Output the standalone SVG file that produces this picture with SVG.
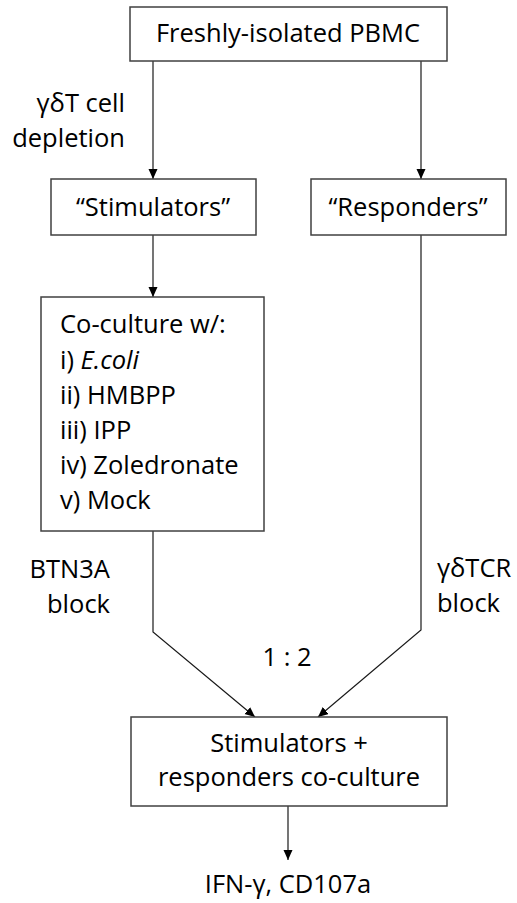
<svg xmlns="http://www.w3.org/2000/svg" width="517" height="903" viewBox="0 0 517 903">
  <defs>
    <marker id="arrow" markerUnits="userSpaceOnUse" markerWidth="10" markerHeight="10" refX="10" refY="4.5" orient="auto">
      <path d="M0,0 L10,4.5 L0,9 z" fill="#000"/>
    </marker>
    <style>
      .box { fill: #fff; stroke: #404040; stroke-width: 1.5; }
      .conn { fill: none; stroke: #1a1a1a; stroke-width: 1.2; }
      text { font-family: "Open Sans", "Noto Sans", "Liberation Sans", sans-serif; font-size: 25.5px; fill: #000; }
      .mid { text-anchor: middle; }
      .end { text-anchor: end; }
    </style>
  </defs>
  <rect width="517" height="903" fill="#fff"/>

  <!-- connectors -->
  <g id="connectors">
    <path class="conn" d="M153,61 V179" marker-end="url(#arrow)"/>
    <path class="conn" d="M421,61 V179" marker-end="url(#arrow)"/>
    <path class="conn" d="M153,235 V297" marker-end="url(#arrow)"/>
    <path class="conn" d="M153,531 V632 L255,717" marker-end="url(#arrow)"/>
    <path class="conn" d="M421,235 V630 L318,717" marker-end="url(#arrow)"/>
    <path class="conn" d="M288,806 V860" marker-end="url(#arrow)"/>
  </g>

  <!-- edge labels -->
  <g id="labels">
    <text class="end" x="125" y="112">γδT cell</text>
    <text class="end" x="125" y="147">depletion</text>
    <text class="end" x="110" y="578">BTN3A</text>
    <text class="end" x="110" y="613">block</text>
    <text x="437" y="577">γδTCR</text>
    <text x="437" y="612">block</text>
    <text class="mid" x="287" y="666">1 : 2</text>
  </g>

  <g id="pbmc">
    <rect class="box" x="130" y="7" width="317" height="54"/>
    <text class="mid" x="288" y="42">Freshly-isolated PBMC</text>
  </g>

  <g id="stimulators">
    <rect class="box" x="51" y="179" width="205" height="56"/>
    <text class="mid" x="153" y="216">“Stimulators”</text>
  </g>

  <g id="responders">
    <rect class="box" x="311" y="179" width="195" height="56"/>
    <text class="mid" x="408" y="216">“Responders”</text>
  </g>

  <g id="coculture">
    <rect class="box" x="41" y="297" width="223" height="234"/>
    <text x="60" y="333">Co-culture w/:</text>
    <text x="60" y="369">i) <tspan font-style="italic">E.coli</tspan></text>
    <text x="60" y="404">ii) HMBPP</text>
    <text x="60" y="439">iii) IPP</text>
    <text x="60" y="474">iv) Zoledronate</text>
    <text x="60" y="509">v) Mock</text>
  </g>

  <g id="combined">
    <rect class="box" x="131" y="717" width="316" height="89"/>
    <text class="mid" x="289" y="752">Stimulators +</text>
    <text class="mid" x="289" y="786">responders co-culture</text>
  </g>

  <g id="readout">
    <text class="mid" x="288" y="893">IFN-γ, CD107a</text>
  </g>
</svg>
